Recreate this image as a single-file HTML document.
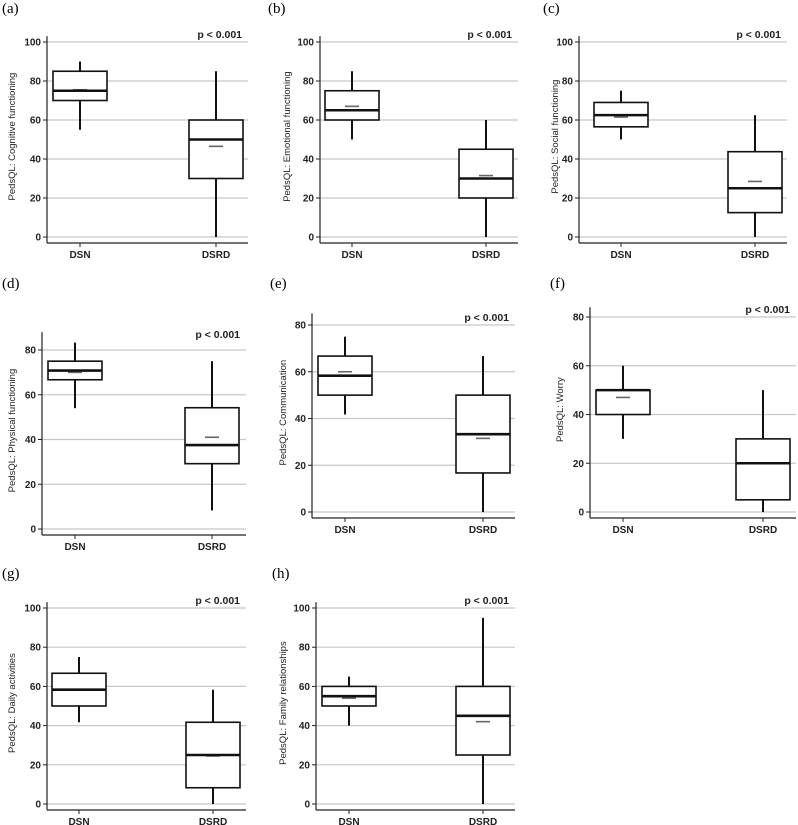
<!DOCTYPE html>
<html><head><meta charset="utf-8"><style>
html,body{margin:0;padding:0;background:#fff;}
svg{display:block;}
text{font-family:"Liberation Sans",Arial,sans-serif;}
.pl{font-family:"Liberation Serif",serif;font-size:15px;}
</style></head><body>
<svg id="fig" width="798" height="825" viewBox="0 0 798 825" xmlns="http://www.w3.org/2000/svg"></svg>
<script>
const groups = ["DSN","DSRD"];
const panelLetters = ["(a)","(b)","(c)","(d)","(e)","(f)","(g)","(h)"];
const yTitles = ["PedsQL: Cognitive functioning","PedsQL: Emotional functioning","PedsQL: Social functioning","PedsQL: Physical functioning","PedsQL: Communication","PedsQL: Worry","PedsQL: Daily activities","PedsQL: Family relationships"];
const yTicks = [[0,20,40,60,80,100],[0,20,40,60,80,100],[0,20,40,60,80,100],[0,20,40,60,80],[0,20,40,60,80],[0,20,40,60,80],[0,20,40,60,80,100],[0,20,40,60,80,100]];
const yMax = [103,103,103,88,85,84,103,103];
const pText = "p < 0.001";
// [whiskerLow, q1, median, q3, whiskerHigh] for DSN then DSRD
const dsnStats = [[55,70,75,85,90],[50,60,65,75,85],[50,56.5,62.5,69,75],[54,66.7,70.8,75,83.3],[41.7,50,58.3,66.7,75],[30,40,50,50,60],[41.7,50,58.3,66.7,75],[40,50,55,60,65]];
const dsrdStats = [[0,30,50,60,85],[0,20,30,45,60],[0,12.5,25,43.75,62.5],[8.3,29.2,37.5,54.2,75],[0,16.7,33.3,50,66.7],[0,5,20,30,50],[0,8.3,25,41.7,58.3],[0,25,45,60,95]];
const dsnMeans = [75.5,67,61.5,70,60,47,58.5,54];
const dsrdMeans = [46.5,31.5,28.5,41,31.5,20,24.5,42];

// layout (pixel geometry, not data)
const L = [
 {ax:47,right:248,c:[80,216],y0:237,yv:100,yvp:42,lab:[2,8],yt:15},
 {ax:320,right:518,c:[352,486],y0:237,yv:100,yvp:42,lab:[268,8],yt:290},
 {ax:579,right:787,c:[621,755],y0:237,yv:100,yvp:42,lab:[543,8],yt:558},
 {ax:42,right:246,c:[75,212],y0:529,yv:80,yvp:350,lab:[2,283],yt:15},
 {ax:312,right:515,c:[345,483],y0:512,yv:80,yvp:325,lab:[270,283],yt:286},
 {ax:590,right:796,c:[623,763],y0:512,yv:80,yvp:317,lab:[550,283],yt:563},
 {ax:47,right:246,c:[79,213],y0:804,yv:100,yvp:608,lab:[2,573],yt:15},
 {ax:316,right:515,c:[349,483],y0:804,yv:100,yvp:608,lab:[272,573],yt:286}
];
const NS="http://www.w3.org/2000/svg";
const svg=document.getElementById('fig');
function mk(tag,attrs,parent){const e=document.createElementNS(NS,tag);for(const k in attrs)e.setAttribute(k,attrs[k]);(parent||svg).appendChild(e);return e;}

for(let p=0;p<8;p++){
  const g=L[p];
  const sc=v=>g.y0+(g.yvp-g.y0)*v/g.yv;
  const grp=mk('g',{});
  
  
  const pl=mk('text',{x:g.lab[0],y:g.lab[1]+5,class:'pl'},grp);pl.textContent=panelLetters[p];
  
  const top=sc(yMax[p]);
  // gridlines & ticks
  yTicks[p].forEach(t=>{
    const y=sc(t);
    const gl=mk('line',{x1:g.ax,x2:g.right,y1:y,y2:y,stroke:'#c8c8c8','stroke-width':1.2},grp);
    
    mk('line',{x1:g.ax-4,x2:g.ax,y1:y,y2:y,stroke:'#222','stroke-width':1},grp);
    const tl=mk('text',{x:g.ax-6,y:y+3.5,'text-anchor':'end','font-size':10,'font-weight':'bold',fill:'#222'},grp);
    tl.textContent=t;
  });
  const bot=g.y0+6;
  const ya=mk('line',{x1:g.ax,x2:g.ax,y1:top,y2:bot,stroke:'#222','stroke-width':1.2},grp);
  
  const xa=mk('line',{x1:g.ax,x2:g.right,y1:bot,y2:bot,stroke:'#222','stroke-width':1.2},grp);
  
  const yt=mk('text',{x:g.yt,y:(top+g.y0)/2,'text-anchor':'middle','font-size':9.5,fill:'#222',transform:`rotate(-90 ${g.yt} ${(top+g.y0)/2})`},grp);
  yt.textContent=yTitles[p];
  const pt=mk('text',{x:g.right-6,y:sc(g.yv===100?100:80)-4,'text-anchor':'end','font-size':10.5,'font-weight':'bold',fill:'#222'},grp);
  if(p===3)pt.setAttribute('y',sc(80)-12);
  pt.textContent=pText;
  [dsnStats[p],dsrdStats[p]].forEach((s,i)=>{
    const cx=g.c[i],hw=27;
    mk('line',{x1:cx,x2:cx,y1:sc(s[0]),y2:sc(s[1]),stroke:'#111','stroke-width':2},grp);
    mk('line',{x1:cx,x2:cx,y1:sc(s[3]),y2:sc(s[4]),stroke:'#111','stroke-width':2},grp);
    const b=mk('rect',{x:cx-hw,y:sc(s[3]),width:2*hw,height:sc(s[1])-sc(s[3]),fill:'#fff',stroke:'#111','stroke-width':1.6},grp);
    
    const m=[dsnMeans,dsrdMeans][i][p];
    const mn=mk('line',{x1:cx-7,x2:cx+7,y1:sc(m),y2:sc(m),stroke:'#666','stroke-width':1.6},grp);
    
    const md=mk('line',{x1:cx-hw,x2:cx+hw,y1:sc(s[2]),y2:sc(s[2]),stroke:'#111','stroke-width':2.6},grp);
    
    mk('line',{x1:cx,x2:cx,y1:bot,y2:bot+4,stroke:'#222','stroke-width':1},grp);
    const xl=mk('text',{x:cx,y:bot+15,'text-anchor':'middle','font-size':10,'font-weight':'bold',fill:'#222'},grp);
    xl.textContent=groups[i];
  });
}
</script>
</body></html>
